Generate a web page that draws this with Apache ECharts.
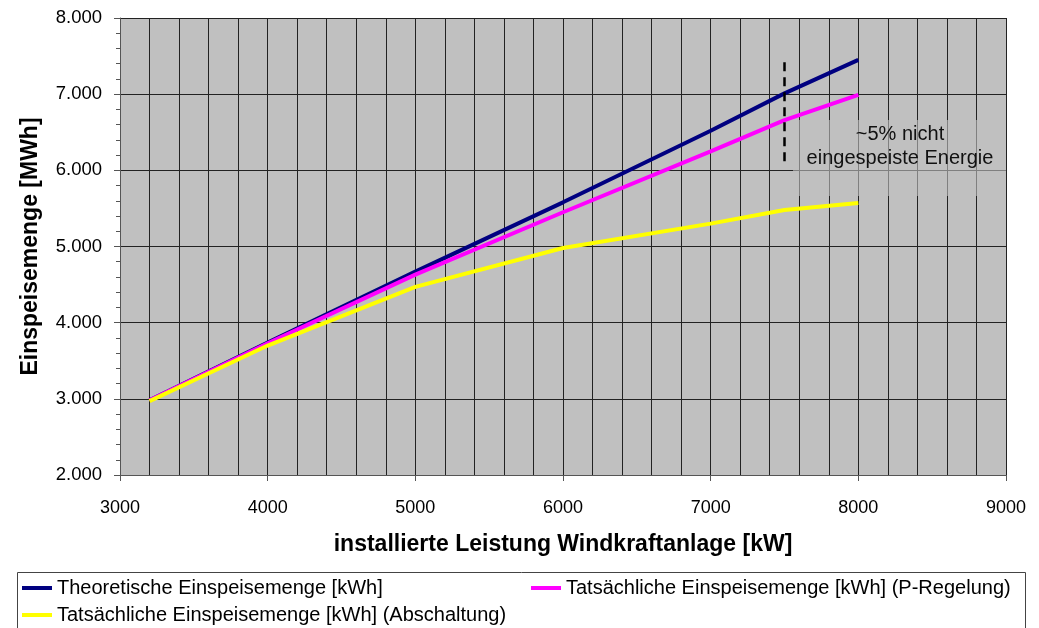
<!DOCTYPE html>
<html>
<head>
<meta charset="utf-8">
<script src="https://cdn.jsdelivr.net/npm/echarts@6/dist/echarts.min.js"></script>
<style>
  html, body { margin: 0; padding: 0; background: #fff; }
  #chart { width: 1039px; height: 628px; }
</style>
</head>
<body>
<div id="chart"></div>
<script>
// installed capacity of the wind turbine [kW]
const leistung = [3200, 4000, 5000, 6000, 7000, 7500, 8000];
// fed-in energy [MWh]
const theoretisch = [2980, 3740, 4670, 5580, 6520, 7010, 7450];
const pRegelung   = [2980, 3730, 4630, 5450, 6250, 6660, 6990];
const abschaltung = [2970, 3700, 4470, 4980, 5300, 5480, 5570];
// marker line at 7500 kW spanning the gap
const markerX = 7500;
const markerRange = [7420, 6100];

const seriesNames = [
  'Theoretische Einspeisemenge [kWh]',
  'Tatsächliche Einspeisemenge [kWh] (P-Regelung)',
  'Tatsächliche Einspeisemenge [kWh] (Abschaltung)'
];

const FONT = '"Liberation Sans", Arial, sans-serif';

function pairs(xs, ys) { return xs.map((x, i) => [x, ys[i]]); }
function deThousands(v) {
  const s = String(Math.round(v));
  return s.replace(/\B(?=(\d{3})+(?!\d))/g, '.');
}

const chart = echarts.init(document.getElementById('chart'), null, { renderer: 'canvas' });

const lineSeries = (name, ys, color) => ({
  name, type: 'line', data: pairs(leistung, ys),
  showSymbol: false, symbol: 'none',
  lineStyle: { color, width: 4 }, itemStyle: { color },
  z: 5, animation: false
});

const legendItem = (name, left, top) => ({
  data: [name], left, top, orient: 'horizontal',
  icon: 'rect', itemWidth: 30, itemHeight: 4, itemGap: 0,
  padding: 0, selectedMode: false,
  textStyle: { fontFamily: FONT, fontSize: 20, color: '#000' }
});

chart.setOption({
  animation: false,
  backgroundColor: '#fff',
  grid: { left: 120, right: 33, top: 18, bottom: 153, show: true, backgroundColor: '#c0c0c0', borderWidth: 0 },
  xAxis: {
    type: 'value', min: 3000, max: 9000, interval: 1000,
    name: 'installierte Leistung Windkraftanlage [kW]',
    nameLocation: 'middle', nameGap: 58,
    nameTextStyle: { fontFamily: FONT, fontSize: 23, fontWeight: 'bold', color: '#000' },
    axisLine: { show: true, onZero: false, lineStyle: { color: '#555', width: 1 } },
    axisTick: { show: true, inside: false, length: 6, lineStyle: { color: '#555' } },
    axisLabel: { fontFamily: FONT, fontSize: 18, color: '#000', margin: 24, formatter: v => String(v) },
    splitLine: { show: true, lineStyle: { color: '#222', width: 1 } },
    minorTick: { show: false, splitNumber: 5 },
    minorSplitLine: { show: true, lineStyle: { color: '#222', width: 1 } }
  },
  yAxis: {
    type: 'value', min: 2000, max: 8000, interval: 1000,
    name: 'Einspeisemenge [MWh]',
    nameLocation: 'middle', nameGap: 78, nameRotate: 90,
    nameTextStyle: { fontFamily: FONT, fontSize: 23, fontWeight: 'bold', color: '#000' },
    axisLine: { show: true, lineStyle: { color: '#555', width: 1 } },
    axisTick: { show: true, inside: false, length: 6, lineStyle: { color: '#555' } },
    minorTick: { show: true, splitNumber: 5, length: 4, lineStyle: { color: '#555' } },
    axisLabel: { fontFamily: FONT, fontSize: 18.5, color: '#000', margin: 18, formatter: deThousands },
    splitLine: { show: true, lineStyle: { color: '#222', width: 1 } }
  },
  legend: [
    legendItem(seriesNames[0], 22, 578),
    legendItem(seriesNames[1], 531, 578),
    legendItem(seriesNames[2], 22, 605)
  ],
  graphic: [
    {
      type: 'rect', z: 1, silent: true,
      shape: { x: 17.5, y: 572.5, width: 1008, height: 70 },
      style: { fill: 'none', stroke: '#444', lineWidth: 1 }
    },
    {
      type: 'rect', z: 3, silent: true,
      shape: { x: 793, y: 120, width: 213, height: 76 },
      style: { fill: 'rgba(192,192,192,0.6)' }
    },
    {
      type: 'text', z: 4, silent: true, x: 900, y: 134,
      style: { text: '~5% nicht', font: '20px ' + FONT, fill: '#111', align: 'center', verticalAlign: 'middle' }
    },
    {
      type: 'text', z: 4, silent: true, x: 900, y: 158,
      style: { text: 'eingespeiste Energie', font: '20px ' + FONT, fill: '#111', align: 'center', verticalAlign: 'middle' }
    }
  ],
  series: [
    lineSeries(seriesNames[0], theoretisch, '#000080'),
    lineSeries(seriesNames[1], pRegelung, '#ff00ff'),
    lineSeries(seriesNames[2], abschaltung, '#ffff00'),
    {
      name: 'marker', type: 'line', symbol: 'none', silent: true,
      data: markerRange.map(v => [markerX, v]),
      lineStyle: { color: '#000', width: 2.5, type: [9, 6] },
      z: 6, animation: false
    }
  ]
});
</script>
</body>
</html>
